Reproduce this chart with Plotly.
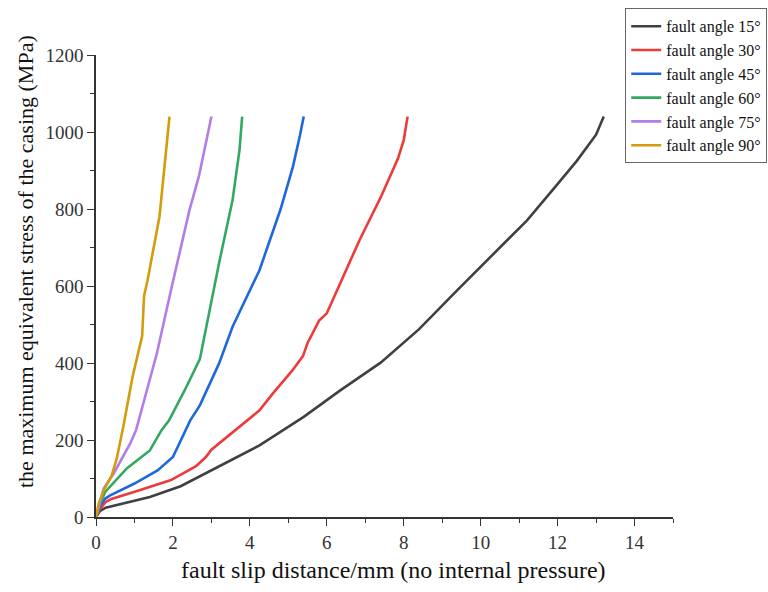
import plotly.graph_objects as go

# Fault slip distance (mm) vs. maximum equivalent stress (MPa), one series per fault angle
slip_15 = [0, 0.1, 0.25, 0.7, 1.4, 2.2, 3.0, 4.25, 5.4, 6.35, 7.4, 8.4, 9.4, 10.4, 11.2, 11.9, 12.5, 13.0, 13.2]
stress_15 = [0, 15, 24, 35, 52, 80, 121, 186, 260, 329, 401, 488, 590, 689, 770, 853, 925, 993, 1040]

slip_30 = [0, 0.1, 0.25, 0.4, 1.15, 1.95, 2.6, 2.85, 3.0, 3.65, 4.25, 4.6, 5.1, 5.38, 5.5, 5.8, 6.0, 6.85, 7.4, 7.85, 8.0, 8.1]
stress_30 = [0, 20, 39, 47, 70, 96, 132, 155, 175, 227, 277, 321, 380, 418, 452, 510, 529, 719, 830, 931, 979, 1040]

slip_45 = [0, 0.1, 0.24, 0.37, 1.0, 1.6, 2.0, 2.45, 2.7, 3.2, 3.55, 4.25, 4.8, 5.12, 5.3, 5.4]
stress_45 = [0, 28, 48, 56, 87, 121, 156, 251, 290, 399, 494, 641, 800, 910, 990, 1040]

slip_60 = [0, 0.1, 0.24, 0.8, 1.4, 1.7, 1.9, 2.3, 2.7, 3.0, 3.2, 3.55, 3.73, 3.8]
stress_60 = [0, 35, 65, 126, 173, 225, 251, 328, 410, 562, 660, 823, 953, 1040]

slip_75 = [0, 0.1, 0.2, 0.46, 0.89, 1.04, 1.11, 1.58, 1.99, 2.43, 2.68, 3.0]
stress_75 = [0, 40, 74, 113, 191, 225, 251, 424, 607, 797, 887, 1040]

slip_90 = [0, 0.07, 0.2, 0.41, 0.54, 0.72, 0.95, 1.2, 1.25, 1.34, 1.65, 1.91]
stress_90 = [0, 35, 69, 108, 152, 240, 364, 470, 575, 615, 780, 1040]

series = [
    ("fault angle 15°", slip_15, stress_15, "#404040"),
    ("fault angle 30°", slip_30, stress_30, "#ec3b3b"),
    ("fault angle 45°", slip_45, stress_45, "#1f68dc"),
    ("fault angle 60°", slip_60, stress_60, "#33a863"),
    ("fault angle 75°", slip_75, stress_75, "#b27de6"),
    ("fault angle 90°", slip_90, stress_90, "#d29c0c"),
]

x_ticks = [0, 2, 4, 6, 8, 10, 12, 14]
y_ticks = [0, 200, 400, 600, 800, 1000, 1200]

x_title = "fault slip distance/mm (no internal pressure)"
y_title = "the maximum equivalent stress of the casing (MPa)"

fig = go.Figure()
for name, xs, ys, color in series:
    fig.add_trace(go.Scatter(
        x=xs, y=ys, name=name, mode="lines",
        line=dict(color=color, width=2.6),
    ))

font_family = "Liberation Serif, Times New Roman, serif"
axis_color = "#333333"
W, H = 768, 592

# axis titles placed as paper-level annotations
fig.add_annotation(
    text=x_title, xref="paper", yref="paper", showarrow=False,
    x=(393 - 96) / (673 - 96), y=-(570 - 517) / (517 - 55),
    xanchor="center", yanchor="middle",
    font=dict(family=font_family, size=24, color="#111111"),
)
fig.add_annotation(
    text=y_title, xref="paper", yref="paper", showarrow=False, textangle=-90,
    x=-(96 - 25) / (673 - 96), y=(517 - 262) / (517 - 55),
    xanchor="center", yanchor="middle",
    font=dict(family=font_family, size=22, color="#111111"),
)

fig.update_layout(
    width=W, height=H,
    margin=dict(l=96, r=95, t=55, b=75, autoexpand=False),
    paper_bgcolor="white", plot_bgcolor="white",
    font=dict(family=font_family, color="#222222"),
    showlegend=True,
    legend=dict(
        xref="container", yref="container",
        x=0.999, y=0.986, xanchor="right", yanchor="top",
        bgcolor="white", bordercolor="#666666", borderwidth=1,
        font=dict(family=font_family, size=16, color="#111111"),
        tracegroupgap=0,
    ),
    xaxis=dict(
        range=[0, 15], tickvals=x_ticks, ticktext=[str(v) for v in x_ticks],
        showgrid=False, zeroline=False,
        showline=True, linecolor=axis_color, linewidth=1.6,
        ticks="outside", ticklen=7, tickwidth=1.4, tickcolor=axis_color,
        minor=dict(dtick=1, ticks="outside", ticklen=4, tickwidth=1.2, tickcolor=axis_color),
        tickfont=dict(size=19, family=font_family, color="#333333"),
    ),
    yaxis=dict(
        range=[0, 1200], tickvals=y_ticks, ticktext=[str(v) for v in y_ticks],
        showgrid=False, zeroline=False,
        showline=True, linecolor=axis_color, linewidth=1.6,
        ticks="outside", ticklen=7, tickwidth=1.4, tickcolor=axis_color,
        minor=dict(dtick=100, ticks="outside", ticklen=4, tickwidth=1.2, tickcolor=axis_color),
        tickfont=dict(size=19, family=font_family, color="#333333"),
    ),
)

fig.write_html("out.html")
